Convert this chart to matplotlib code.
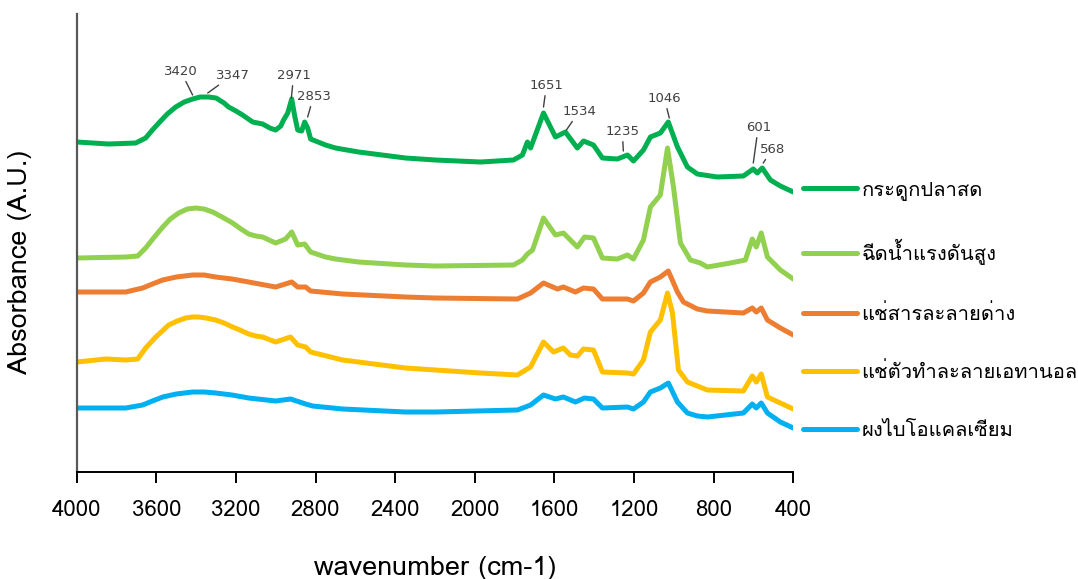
import matplotlib
matplotlib.use("Agg")
import matplotlib.pyplot as plt
from matplotlib import font_manager
from matplotlib.ft2font import FT2Font


def thai_family():
    # find any installed font that has Thai glyphs
    for f in font_manager.fontManager.ttflist:
        try:
            if 0x0E01 in FT2Font(f.fname).get_charmap():
                return f.name
        except Exception:
            pass
    return None


# FTIR spectra, offset vertically (arbitrary units)
wn_fresh = [4000, 3839, 3704, 3654, 3620, 3588, 3545, 3503, 3460, 3418, 3380, 3337,
            3300, 3260, 3237, 3200, 3167, 3116, 3066, 3030, 3001, 2975, 2961, 2940,
            2920, 2905, 2890, 2870, 2855, 2840, 2825, 2750, 2700, 2584, 2348, 2198,
            1971, 1806, 1761, 1736, 1720, 1655, 1595, 1545, 1485, 1454, 1404, 1359,
            1284, 1233, 1203, 1153, 1118, 1068, 1028, 982, 932, 882, 782, 651, 601,
            581, 556, 515, 465, 400]
ab_fresh = [329, 327, 328, 333, 341, 348, 357, 364, 369, 372, 374, 374,
            373, 368, 364, 360, 356, 349, 347, 343, 341, 345, 351, 358,
            372, 355, 341, 340, 349, 343, 332, 326, 323, 319, 313, 311,
            309, 311, 316, 329, 323, 358, 334, 339, 323, 330, 326, 313,
            312, 316, 310, 321, 334, 338, 349, 324, 304, 297, 294, 295, 302,
            298, 303, 291, 285, 279]

wn_water = [4000, 3754, 3694, 3654, 3610, 3568, 3530, 3488, 3445, 3402, 3360, 3317,
            3270, 3217, 3175, 3136, 3100, 3066, 3001, 2951, 2920, 2890, 2855, 2825,
            2750, 2700, 2584, 2348, 2198, 1806, 1761, 1736, 1710, 1655, 1595, 1555,
            1485, 1449, 1404, 1359, 1284, 1233, 1203, 1153, 1118, 1068, 1032, 1002,
            967, 917, 867, 832, 716, 641, 606, 586, 561, 530, 465, 400]
ab_water = [213, 214, 215, 223, 234, 244, 252, 258, 262, 263, 262, 259,
            254, 248, 242, 237, 235, 234, 228, 232, 239, 226, 227, 219,
            214, 212, 209, 206, 205, 206, 211, 217, 221, 253, 236, 238,
            224, 234, 233, 213, 212, 216, 212, 231, 264, 276, 323, 284,
            228, 211, 208, 204, 208, 211, 232, 224, 238, 214, 201, 192]

wn_alkali = [4000, 3754, 3669, 3620, 3568, 3500, 3418, 3360, 3302, 3220, 3136, 3001,
             2920, 2890, 2850, 2825, 2664, 2348, 2198, 1786, 1720, 1655, 1585, 1555,
             1495, 1454, 1404, 1359, 1233, 1203, 1153, 1118, 1068, 1028, 982, 952,
             882, 832, 651, 606, 586, 561, 530, 465, 400]
ab_alkali = [179, 179, 183, 187, 191, 194, 196, 196, 194, 192, 189, 184,
             189, 184, 184, 180, 177, 174, 173, 172, 178, 188, 182, 184,
             179, 183, 182, 172, 172, 170, 178, 189, 194, 200, 179, 169,
             162, 160, 158, 163, 159, 163, 151, 143, 136]

wn_ethanol = [4000, 3854, 3754, 3694, 3654, 3603, 3538, 3495, 3453, 3420, 3387, 3350,
              3302, 3260, 3217, 3180, 3136, 3100, 3066, 3001, 2926, 2890, 2850, 2825,
              2664, 2348, 2198, 1971, 1786, 1720, 1655, 1605, 1555, 1520, 1485, 1454,
              1404, 1359, 1233, 1203, 1153, 1118, 1068, 1032, 1007, 977, 932, 882,
              832, 651, 606, 586, 561, 530, 465, 400]
ab_ethanol = [109, 112, 111, 112, 123, 134, 146, 150, 153, 154, 154, 153,
              151, 148, 144, 141, 137, 135, 134, 129, 134, 126, 124, 119,
              111, 103, 101, 98, 96, 104, 129, 119, 123, 116, 115, 122,
              121, 99, 98, 97, 111, 139, 151, 178, 158, 101, 89, 85,
              81, 80, 95, 89, 97, 74, 68, 62]

wn_bioca = [4000, 3754, 3669, 3620, 3568, 3500, 3418, 3360, 3302, 3220, 3136, 3001,
            2926, 2850, 2815, 2664, 2348, 2198, 1786, 1720, 1655, 1595, 1555, 1495,
            1449, 1404, 1359, 1233, 1203, 1153, 1118, 1068, 1028, 982, 932, 882,
            832, 651, 606, 586, 561, 530, 465, 400]
ab_bioca = [63, 63, 66, 70, 74, 77, 79, 79, 78, 76, 73, 70,
            72, 67, 65, 62, 59, 59, 61, 66, 76, 72, 74, 69,
            73, 72, 63, 64, 62, 69, 79, 83, 88, 69, 58, 55,
            54, 58, 67, 63, 68, 58, 49, 43]

labels = ['กระดูกปลาสด', 'ฉีดน้ำแรงดันสูง', 'แช่สารละลายด่าง',
          'แช่ตัวทำละลายเอทานอล', 'ผงไบโอแคลเซียม']
colors = ['#00B050', '#92D050', '#ED7D31', '#FFC000', '#00B0F0']

# peak labels on the top spectrum
peak_txt = ['3420', '3347', '2971', '2853', '1651', '1534', '1235', '1046', '601', '568']
peak_xy = [(3418, 376), (3342, 378), (2922, 373), (2840, 354), (1655, 364),
           (1540, 341), (1254, 320), (1023, 353), (601, 308), (551, 308)]
peak_text_at = [(3478, 400), (3217, 396), (2910, 396), (2810, 375), (1640, 386),
                (1474, 360), (1259, 340), (1048, 373), (576, 344), (505, 322)]

thai = thai_family()
fams = [thai, 'DejaVu Sans'] if thai else ['DejaVu Sans']
plt.rcParams['font.family'] = fams

fig = plt.figure(figsize=(10.78, 5.79), dpi=100)
ax = fig.add_axes([0.0712, 0.1848, 0.6647, 0.791])

series = [(wn_fresh, ab_fresh), (wn_water, ab_water), (wn_alkali, ab_alkali),
          (wn_ethanol, ab_ethanol), (wn_bioca, ab_bioca)]
handles = []
for (w, a), lab, col in zip(series, labels, colors):
    h, = ax.plot(w, a, color=col, lw=3.6, solid_joinstyle='round',
                 solid_capstyle='round', label=lab)
    handles.append(h)

for t, xy, xt in zip(peak_txt, peak_xy, peak_text_at):
    ax.annotate(t, xy=xy, xytext=xt, fontsize=9.5, color='#404040',
                ha='center', va='center', family='DejaVu Sans',
                arrowprops=dict(arrowstyle='-', color='#404040', lw=1,
                                shrinkA=1, shrinkB=0))

ax.set_xlim(4000, 400)
ax.set_ylim(-1, 457)
ax.set_xticks([4000, 3600, 3200, 2800, 2400, 2000, 1600, 1200, 800, 400])
ax.set_yticks([])
for s in ['top', 'right']:
    ax.spines[s].set_visible(False)
ax.spines['left'].set_color('#595959')
ax.spines['left'].set_linewidth(1.6)
ax.spines['bottom'].set_linewidth(1.4)
ax.tick_params(axis='x', direction='out', length=8, width=1.4, pad=12,
               labelsize=16)

ax.set_xlabel('wavenumber (cm-1)', fontsize=19.5)
ax.xaxis.set_label_coords(0.5, -0.183)
ax.set_ylabel('Absorbance (A.U.)', fontsize=19.5)
ax.yaxis.set_label_coords(-0.062, 0.459)

fig.legend(handles=handles, labels=labels, loc='upper left',
           bbox_to_anchor=(0.745, 0.689), frameon=False, fontsize=14.5,
           handlelength=2.7, handletextpad=0.2, labelspacing=1.93,
           borderpad=0, borderaxespad=0)

fig.savefig('out.png', dpi=100)
